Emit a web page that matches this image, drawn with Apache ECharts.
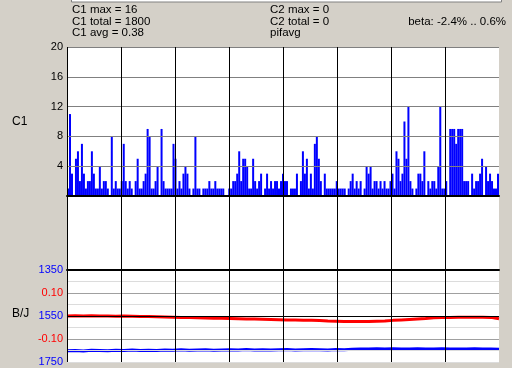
<!DOCTYPE html>
<html><head><meta charset="utf-8">
<script src="https://cdn.jsdelivr.net/npm/echarts@6/dist/echarts.min.js"></script>
<style>html,body{margin:0;padding:0;background:#d4d0c8}#c{width:512px;height:368px}</style>
</head><body><div id="c"></div>
<script>
// C1 counts per time bin (216 bins)
const c1Values = [
  1,11,3,0,5,6,2,7,3,1, 2,2,6,3,1,1,4,1,2,2, 1,0,8,1,2,1,1,2,7,2, 1,2,1,0,2,5,1,1,2,3,
  9,8,1,1,2,4,0,9,2,1, 1,1,1,7,5,
  1,2,1,3,4,3,1,0,1,8, 1,1,0,1,1,1,2,1,1,2, 1,1,1,1,0,0,1,1,2,2, 3,6,2,5,5,4,1,1,5,2,
  1,2,3,0,1,3,1,2,1,2, 2,1,2,3,
  2,2,0,1,1,1,3,0,2,6, 3,5,1,3,1,7,8,5,2,0, 3,1,1,1,1,1,2,1,1,1, 1,0,1,2,3,1,2,1,2,0,
  1,4,3,4,1,2,2,1,2,1, 2,1,1,2,
  3,1,6,5,2,3,10,5,12,2, 1,0,1,3,3,2,6,0,2,1, 2,2,1,4,12,1,1,2,0,9, 9,9,7,9,9,9,2,2,2,0,
  3,1,2,2,3,5,0,4,2,3, 2,1,1,3
];
// beta (red, fraction)
const betaValues = [
  0.000,0.001,0.000,0.001,0.000,0.000,-0.001,0.000,-0.001,-0.002,-0.002,-0.003,-0.004,
  -0.005,-0.006,-0.007,-0.008,-0.009,-0.010,-0.010,-0.011,-0.012,-0.013,
  -0.013,-0.014,-0.015,-0.016,-0.017,-0.017,-0.018,-0.019,-0.020,-0.022,
  -0.023,-0.024,-0.024,-0.024,-0.024,-0.023,-0.022,
  -0.019,-0.017,-0.015,-0.013,-0.011,-0.008,
  -0.006,-0.006,-0.005,-0.005,-0.005,-0.005,-0.006,-0.012
];
// B/J (blue)
const bjValues = [
  1701,1700,1702,1699,1700,1701,1699,1700,1698,1700,
  1699,1700,1698,1699,1697,1699,1698,1697,1699,1698,
  1697,1698,1696,1698,1697,1698,1697,1696,1698,1697,
  1696,1697,1698,1696,1697,1695,1694,1693,1692,1693,
  1692,1693,1694,1692,1693,1694,1692,1693,1694,1693,
  1692,1694,1693,1695
];
const bjTickLabels = [1350, 1550, 1750];
const betaTickLabels = [0.10, -0.10];
const headerLeft = ['C1 max = 16', 'C1 total = 1800', 'C1 avg = 0.38'];
const headerMid = ['C2 max = 0', 'C2 total = 0', 'pifavg'];
const betaText = 'beta: -2.4% .. 0.6%';

const FONT = '"Liberation Sans", Arial, sans-serif';
const L = 67, W = 432;
const chart = echarts.init(document.getElementById('c'));

const vLines = (gi, pos, showLine) => ({
  type: 'value', gridIndex: gi, min: 0, max: 8, interval: 1, position: pos, z: 12,
  axisLine: {show: showLine, onZero: false, lineStyle: {color: '#000', width: 2}},
  axisTick: {show: false}, axisLabel: {show: false},
  splitLine: {show: true, showMaxLine: false, lineStyle: {color: '#000', width: 1}}
});

const headerY = [10, 21.5, 33];
const graphics = [
  {type: 'rect', shape: {x: 71.5, y: -5, width: 430, height: 7}, style: {fill: '#fff', stroke: '#808080', lineWidth: 1}},
  {type: 'text', x: 12, y: 122, style: {text: 'C1', font: '12px ' + FONT, fill: '#000', verticalAlign: 'middle'}},
  {type: 'text', x: 12, y: 314, style: {text: 'B/J', font: '12px ' + FONT, fill: '#000', verticalAlign: 'middle'}},
  {type: 'text', x: 506, y: headerY[1], style: {text: betaText, font: '11.5px ' + FONT, fill: '#000', align: 'right', verticalAlign: 'middle'}}
];
headerLeft.forEach((t, i) => graphics.push({type: 'text', x: 72, y: headerY[i], style: {text: t, font: '11.5px ' + FONT, fill: '#000', verticalAlign: 'middle'}}));
headerMid.forEach((t, i) => graphics.push({type: 'text', x: 270, y: headerY[i], style: {text: t, font: '11.5px ' + FONT, fill: '#000', verticalAlign: 'middle'}}));

chart.setOption({
  backgroundColor: '#d4d0c8',
  animation: false,
  grid: [
    {left: L, top: 47, width: W, height: 149, show: true, backgroundColor: '#fff', borderWidth: 0},
    {left: L, top: 196, width: W, height: 74, show: true, backgroundColor: '#fff', borderWidth: 0},
    {left: L, top: 270, width: W, height: 92, show: true, backgroundColor: '#fff', borderWidth: 0}
  ],
  xAxis: [
    {type: 'category', gridIndex: 0, position: 'top', data: c1Values.map((_, i) => i), show: false, boundaryGap: true},
    vLines(0, 'bottom', true),
    vLines(1, 'bottom', false),
    {type: 'category', gridIndex: 2, position: 'bottom', data: betaValues.map((_, i) => i), show: false, boundaryGap: false},
    vLines(2, 'top', true)
  ],
  yAxis: [
    {type: 'value', gridIndex: 0, min: 0, max: 20, interval: 4, z: 11, position: 'left',
     axisLine: {show: false}, axisTick: {show: false},
     axisLabel: {color: '#000', fontSize: 11, fontFamily: FONT, margin: 4, showMinLabel: false},
     splitLine: {show: true, lineStyle: {color: '#808080', width: 1}}},
    {type: 'value', gridIndex: 1, show: false, splitLine: {show: false}},
    {type: 'value', gridIndex: 2, min: 1350, max: 1750, interval: 50, inverse: true, position: 'left', z: 11,
     axisLine: {show: false}, axisTick: {show: false}, splitLine: {show: false},
     axisLabel: {color: '#0000ff', fontSize: 11, fontFamily: FONT, margin: 4,
       formatter: v => bjTickLabels.indexOf(Math.round(v)) >= 0 ? String(Math.round(v)) : ''}},
    {type: 'value', gridIndex: 2, min: -0.2, max: 0.2, interval: 0.05, position: 'left', z: 11,
     axisLine: {show: false}, axisTick: {show: false},
     axisLabel: {color: '#ff0000', fontSize: 11, fontFamily: FONT, margin: 4,
       formatter: v => betaTickLabels.some(t => Math.abs(t - v) < 1e-9) ? v.toFixed(2) : ''},
     splitLine: {show: true, lineStyle: {width: 1,
       color: ['#dcdcdc', '#dcdcdc', '#a0a0a0', '#dcdcdc', '#000000', '#dcdcdc', '#a0a0a0', '#dcdcdc', '#000000']}}}
  ],
  series: [
    {type: 'bar', xAxisIndex: 0, yAxisIndex: 0, data: c1Values, barWidth: 2, barCategoryGap: '0%', itemStyle: {color: '#0000ff'}, z: 2},
    {type: 'line', xAxisIndex: 3, yAxisIndex: 3, data: betaValues, symbol: 'none', lineStyle: {color: '#ff0000', width: 3}, z: 2},
    {type: 'line', xAxisIndex: 3, yAxisIndex: 2, data: bjValues, symbol: 'none', lineStyle: {color: '#0000ff', width: 3}, z: 2}
  ],
  graphic: graphics
});
</script>
</body></html>
